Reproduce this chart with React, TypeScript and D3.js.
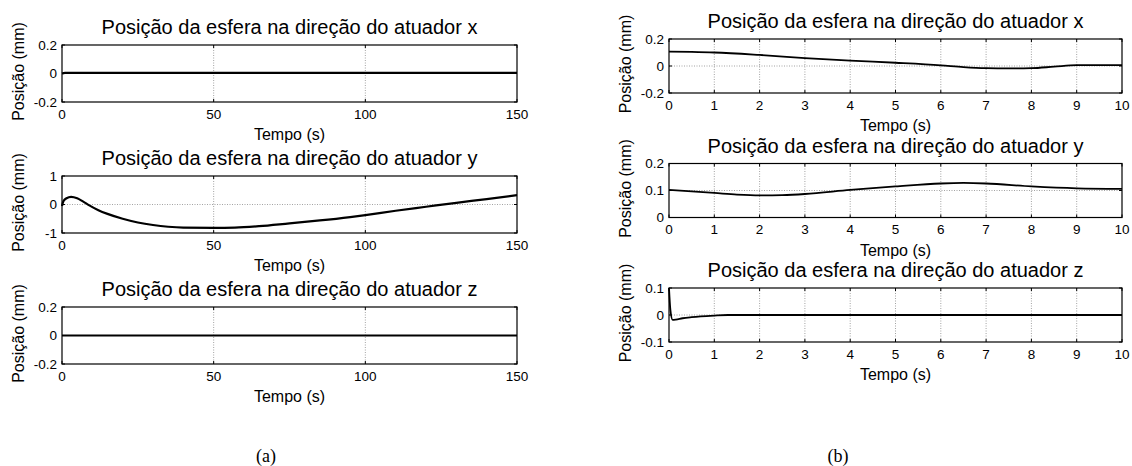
import { useEffect, useRef } from "react";
import * as d3 from "d3";

const W = 1132;
const H = 466;

const titles = [
  "Posição da esfera na direção do atuador x",
  "Posição da esfera na direção do atuador y",
  "Posição da esfera na direção do atuador z",
];
const xLabel = "Tempo (s)";
const yLabel = "Posição (mm)";
const captions = ["(a)", "(b)"];

const ticksLong = [0, 50, 100, 150];
const ticksShort = [0, 1, 2, 3, 4, 5, 6, 7, 8, 9, 10];
const ticksSym02 = [-0.2, 0, 0.2];
const ticksSym1 = [-1, 0, 1];
const ticksPos02 = [0, 0.1, 0.2];
const ticksSym01 = [-0.1, 0, 0.1];

// (a) ensaio de 150 s
const tA_x = [0, 0.5, 1, 150];
const pA_x = [0, 0.003, 0.004, 0.004];
const tA_y = [0, 0.5, 1.5, 3, 5, 7, 9, 12, 15, 20, 25, 30, 35, 40, 50, 57, 65, 75, 85, 95, 100, 110, 120, 130, 140, 150];
const pA_y = [-0.05, 0.12, 0.22, 0.27, 0.22, 0.1, -0.03, -0.2, -0.33, -0.5, -0.63, -0.72, -0.78, -0.81, -0.82, -0.81, -0.76, -0.66, -0.56, -0.44, -0.37, -0.22, -0.08, 0.06, 0.19, 0.33];
const tA_z = [0, 150];
const pA_z = [0, 0];

// (b) primeiros 10 s
const tB_x = [0, 0.5, 1, 2, 3, 4, 5, 6, 6.5, 7, 7.5, 8, 8.5, 9, 10];
const pB_x = [0.106, 0.104, 0.1, 0.082, 0.059, 0.04, 0.024, 0.005, -0.008, -0.016, -0.018, -0.016, -0.005, 0.006, 0.007];
const tB_y = [0, 1, 1.5, 2, 2.5, 3, 4, 5, 6, 6.5, 7, 8, 9, 10];
const pB_y = [0.102, 0.091, 0.085, 0.082, 0.083, 0.087, 0.102, 0.115, 0.126, 0.128, 0.126, 0.115, 0.108, 0.106];
const tB_z = [0, 0.03, 0.08, 0.15, 0.3, 0.5, 0.7, 1, 1.3, 2, 10];
const pB_z = [0.1, 0.02, -0.018, -0.017, -0.012, -0.008, -0.005, -0.002, 0, 0, 0];

const FONT = "'Liberation Sans', Arial, sans-serif";

export default function App() {
  const ref = useRef<SVGSVGElement>(null);

  useEffect(() => {
    const svg = d3.select(ref.current);
    svg.selectAll("*").remove();
    svg.append("rect").attr("width", W).attr("height", H).attr("fill", "#fff");

    const colA = { left: 62, right: 517, tops: [45, 176, 307], h: 57, xDomain: [0, 150], xTicks: ticksLong, lw: 2.2 };
    const colB = { left: 669, right: 1122, tops: [39, 163.5, 288], h: 54, xDomain: [0, 10], xTicks: ticksShort, lw: 1.8 };

    const panels = [
      { col: colA, row: 0, yDomain: [-0.2, 0.2], yTicks: ticksSym02, t: tA_x, v: pA_x },
      { col: colA, row: 1, yDomain: [-1, 1], yTicks: ticksSym1, t: tA_y, v: pA_y },
      { col: colA, row: 2, yDomain: [-0.2, 0.2], yTicks: ticksSym02, t: tA_z, v: pA_z },
      { col: colB, row: 0, yDomain: [-0.2, 0.2], yTicks: ticksSym02, t: tB_x, v: pB_x },
      { col: colB, row: 1, yDomain: [0, 0.2], yTicks: ticksPos02, t: tB_y, v: pB_y },
      { col: colB, row: 2, yDomain: [-0.1, 0.1], yTicks: ticksSym01, t: tB_z, v: pB_z },
    ];

    panels.forEach(p => {
      const { col } = p;
      const top = col.tops[p.row];
      const bottom = top + col.h;
      const x = d3.scaleLinear().domain(col.xDomain).range([col.left, col.right]);
      const y = d3.scaleLinear().domain(p.yDomain).range([bottom, top]);
      const g = svg.append("g");

      // grid
      g.selectAll(".gx")
        .data(col.xTicks.slice(1, -1))
        .join("line")
        .attr("x1", d => x(d)).attr("x2", d => x(d))
        .attr("y1", top).attr("y2", bottom)
        .attr("stroke", "#8c8c8c").attr("stroke-width", 0.8).attr("stroke-dasharray", "1,1.5");
      g.selectAll(".gy")
        .data(p.yTicks.slice(1, -1))
        .join("line")
        .attr("x1", col.left).attr("x2", col.right)
        .attr("y1", d => y(d)).attr("y2", d => y(d))
        .attr("stroke", "#8c8c8c").attr("stroke-width", 0.8).attr("stroke-dasharray", "1,1.5");

      // data
      const line = d3.line<number>()
        .x((_, i) => x(p.t[i]))
        .y(d => y(d))
        .curve(d3.curveMonotoneX);
      g.append("path")
        .attr("d", line(p.v))
        .attr("fill", "none")
        .attr("stroke", "#000")
        .attr("stroke-width", col.lw);

      // box
      g.append("rect")
        .attr("x", col.left).attr("y", top)
        .attr("width", col.right - col.left).attr("height", col.h)
        .attr("fill", "none").attr("stroke", "#000").attr("stroke-width", 1.2);

      // ticks inward
      const tl = 3;
      col.xTicks.forEach(d => {
        g.append("line").attr("x1", x(d)).attr("x2", x(d)).attr("y1", bottom).attr("y2", bottom - tl).attr("stroke", "#000");
        g.append("line").attr("x1", x(d)).attr("x2", x(d)).attr("y1", top).attr("y2", top + tl).attr("stroke", "#000");
      });
      p.yTicks.forEach(d => {
        g.append("line").attr("x1", col.left).attr("x2", col.left + tl).attr("y1", y(d)).attr("y2", y(d)).attr("stroke", "#000");
        g.append("line").attr("x1", col.right).attr("x2", col.right - tl).attr("y1", y(d)).attr("y2", y(d)).attr("stroke", "#000");
      });

      // tick labels
      g.selectAll(".xl")
        .data(col.xTicks)
        .join("text")
        .attr("x", d => x(d)).attr("y", bottom + 16.5)
        .attr("text-anchor", "middle")
        .attr("font-family", FONT).attr("font-size", 13.5)
        .text(d => String(d));
      g.selectAll(".yl")
        .data(p.yTicks)
        .join("text")
        .attr("x", col.left - 5).attr("y", d => y(d)).attr("dy", "0.36em")
        .attr("text-anchor", "end")
        .attr("font-family", FONT).attr("font-size", 13.5)
        .text(d => String(d));

      // title and labels
      const cx = (col.left + col.right) / 2;
      g.append("text")
        .attr("x", cx).attr("y", top - 11)
        .attr("text-anchor", "middle")
        .attr("font-family", FONT).attr("font-size", 20)
        .text(titles[p.row]);
      g.append("text")
        .attr("x", cx).attr("y", bottom + 38)
        .attr("text-anchor", "middle")
        .attr("font-family", FONT).attr("font-size", 16)
        .text(xLabel);
      g.append("text")
        .attr("transform", `translate(${col.left - 38},${(top + bottom) / 2 - 2}) rotate(-90)`)
        .attr("text-anchor", "middle")
        .attr("font-family", FONT).attr("font-size", 16)
        .text(yLabel);
    });

    svg.selectAll(".cap")
      .data(captions)
      .join("text")
      .attr("x", (_, i) => [266, 838][i]).attr("y", 462)
      .attr("text-anchor", "middle")
      .attr("font-family", "'Liberation Serif', 'Times New Roman', serif")
      .attr("font-size", 18)
      .text(d => d);
  }, []);

  return <svg ref={ref} width={W} height={H} style={{ position: "absolute", left: 0, top: 0 }}></svg>;
}
